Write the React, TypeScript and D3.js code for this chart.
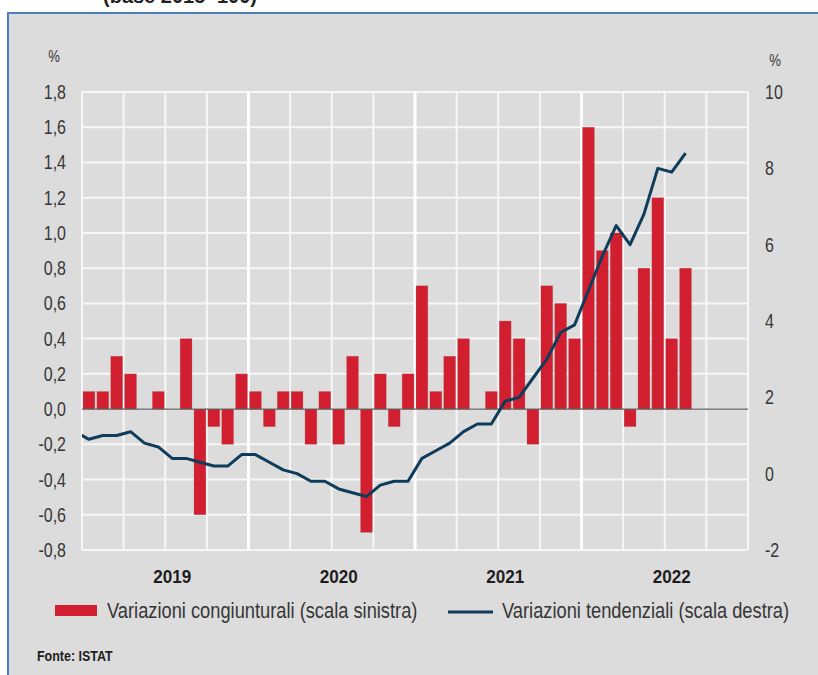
import React from "react";
import * as d3 from "d3";

// ---- data ----
const years = ["2019", "2020", "2021", "2022"];
// monthly change (%), Jan 2019 .. Aug 2022 — left axis
const congiunturali = [
  0.1, 0.1, 0.3, 0.2, 0.0, 0.1, 0.0, 0.4, -0.6, -0.1, -0.2, 0.2,
  0.1, -0.1, 0.1, 0.1, -0.2, 0.1, -0.2, 0.3, -0.7, 0.2, -0.1, 0.2,
  0.7, 0.1, 0.3, 0.4, 0.0, 0.1, 0.5, 0.4, -0.2, 0.7, 0.6, 0.4,
  1.6, 0.9, 1.0, -0.1, 0.8, 1.2, 0.4, 0.8,
];
// yearly change (%), Dec 2018 .. Aug 2022 — right axis
const tendenzialiStart = -1; // Dec 2018 (month index relative to Jan 2019)
const tendenziali = [
  1.1,
  0.9, 1.0, 1.0, 1.1, 0.8, 0.7, 0.4, 0.4, 0.3, 0.2, 0.2, 0.5,
  0.5, 0.3, 0.1, 0.0, -0.2, -0.2, -0.4, -0.5, -0.6, -0.3, -0.2, -0.2,
  0.4, 0.6, 0.8, 1.1, 1.3, 1.3, 1.9, 2.0, 2.5, 3.0, 3.7, 3.9,
  4.8, 5.7, 6.5, 6.0, 6.8, 8.0, 7.9, 8.4,
];
const leftTicks = [-0.8, -0.6, -0.4, -0.2, 0, 0.2, 0.4, 0.6, 0.8, 1.0, 1.2, 1.4, 1.6, 1.8];
const rightTicks = [-2, 0, 2, 4, 6, 8, 10];
const legendBar = "Variazioni congiunturali (scala sinistra)";
const legendLine = "Variazioni tendenziali (scala destra)";
const titleText = "(base 2015=100)";
const sourceText = "Fonte: ISTAT";

// ---- layout ----
const W = 818;
const H = 675;
const plot = { left: 82, right: 748, top: 92, bottom: 550 };
const SANS = "'Liberation Sans', Arial, sans-serif";
const BAR = "#d21f2f";
const LINE = "#0f3c5a";
const TXT = "#363636";
const NARROW_X = 0.82;

const it = d3.formatLocale({ decimal: ",", thousands: ".", grouping: [3], currency: ["", "€"], minus: "-" });
const fmtL = it.format(".1f");
const fmtR = it.format("d");

function NText(props: {
  x: number; y: number; size: number; anchor?: "start" | "middle" | "end";
  weight?: string; fill?: string; sx?: number; children: React.ReactNode; dy?: string;
}) {
  const { x, y, size, anchor = "start", weight = "normal", fill = TXT, sx = NARROW_X, children, dy } = props;
  return (
    <text transform={`translate(${x},${y}) scale(${sx},1)`} dy={dy} textAnchor={anchor}
      fontFamily={SANS} fontSize={size} fontWeight={weight} fill={fill}>
      {children}
    </text>
  );
}

export default function App() {
  const nMonths = years.length * 12;
  const xM = d3.scaleLinear().domain([0, nMonths]).range([plot.left, plot.right]);
  const step = xM(1) - xM(0);
  const yL = d3.scaleLinear().domain([-0.8, 1.8]).range([plot.bottom, plot.top]);
  const yR = d3.scaleLinear().domain([-2, 10]).range([plot.bottom, plot.top]);

  const linePts = tendenziali.map((v, i) => [xM(tendenzialiStart + i + 0.5), yR(v)] as [number, number]);
  const linePath = d3.line()(linePts) || "";

  const quarters = d3.range(0, nMonths + 1, 3);

  return (
    <svg width={W} height={H} style={{ position: "absolute", left: 0, top: 0, background: "#fff" }}>
      <defs>
        <clipPath id="plotclip">
          <rect x={plot.left} y={plot.top - 5} width={plot.right - plot.left} height={plot.bottom - plot.top + 10} />
        </clipPath>
      </defs>
      <text x={103} y={3} fontFamily={SANS} fontWeight="bold" fontSize={20} fill="#222">{titleText}</text>
      <rect x={8} y={13} width={W + 20} height={H + 20} fill="#dcdcdc" stroke="#4f7fc0" strokeWidth={2} />

      {/* horizontal grid */}
      {leftTicks.map((t) => (
        <line key={"h" + t} x1={plot.left} x2={plot.right} y1={yL(t)} y2={yL(t)} stroke="#f7f7f7" strokeWidth={2} />
      ))}
      {/* vertical grid */}
      {quarters.map((q) => {
        const isYear = q % 12 === 0 && q > 0 && q < nMonths;
        return (
          <line key={"v" + q} x1={xM(q)} x2={xM(q)} y1={plot.top} y2={plot.bottom}
            stroke={isYear ? "#ffffff" : "#f7f7f7"} strokeWidth={isYear ? 3 : 2} />
        );
      })}

      {/* bars */}
      {congiunturali.map((v, i) => (
        <rect key={"b" + i} x={xM(i) + 1} width={step - 2} y={yL(Math.max(0, v))}
          height={Math.abs(yL(v) - yL(0))} fill={BAR} stroke="rgba(170,120,120,0.45)" strokeWidth={0.6} />
      ))}

      {/* zero line */}
      <line x1={plot.left} x2={plot.right} y1={yL(0)} y2={yL(0)} stroke="#5a5a5a" strokeWidth={1.3} />

      {/* line */}
      <path d={linePath} fill="none" stroke={LINE} strokeWidth={3} strokeLinejoin="round" clipPath="url(#plotclip)" />

      {/* left axis */}
      {leftTicks.map((t) => (
        <NText key={"lt" + t} x={66} y={yL(t)} dy="0.36em" anchor="end" size={19.5}>{fmtL(t)}</NText>
      ))}
      {rightTicks.map((t) => (
        <NText key={"rt" + t} x={765} y={yR(t)} dy="0.36em" anchor="start" size={19.5}>{fmtR(t)}</NText>
      ))}
      <NText x={54} y={62} anchor="middle" size={16}>%</NText>
      <NText x={775} y={66} anchor="middle" size={16}>%</NText>

      {/* year labels */}
      {years.map((y, k) => (
        <NText key={"y" + y} x={xM(k * 12 + 6.5)} y={583} anchor="middle" weight="bold" size={19} sx={0.9} fill="#1e1e1e">
          {y}
        </NText>
      ))}

      {/* legend */}
      <rect x={55} y={605} width={42} height={11} fill={BAR} />
      <NText x={107} y={618} size={22.3}>{legendBar}</NText>
      <line x1={448} x2={493} y1={612} y2={612} stroke={LINE} strokeWidth={3} />
      <NText x={502} y={618} size={22.3}>{legendLine}</NText>

      <NText x={37} y={661} weight="bold" size={14.5} sx={0.86} fill="#1e1e1e">{sourceText}</NText>
    </svg>
  );
}
